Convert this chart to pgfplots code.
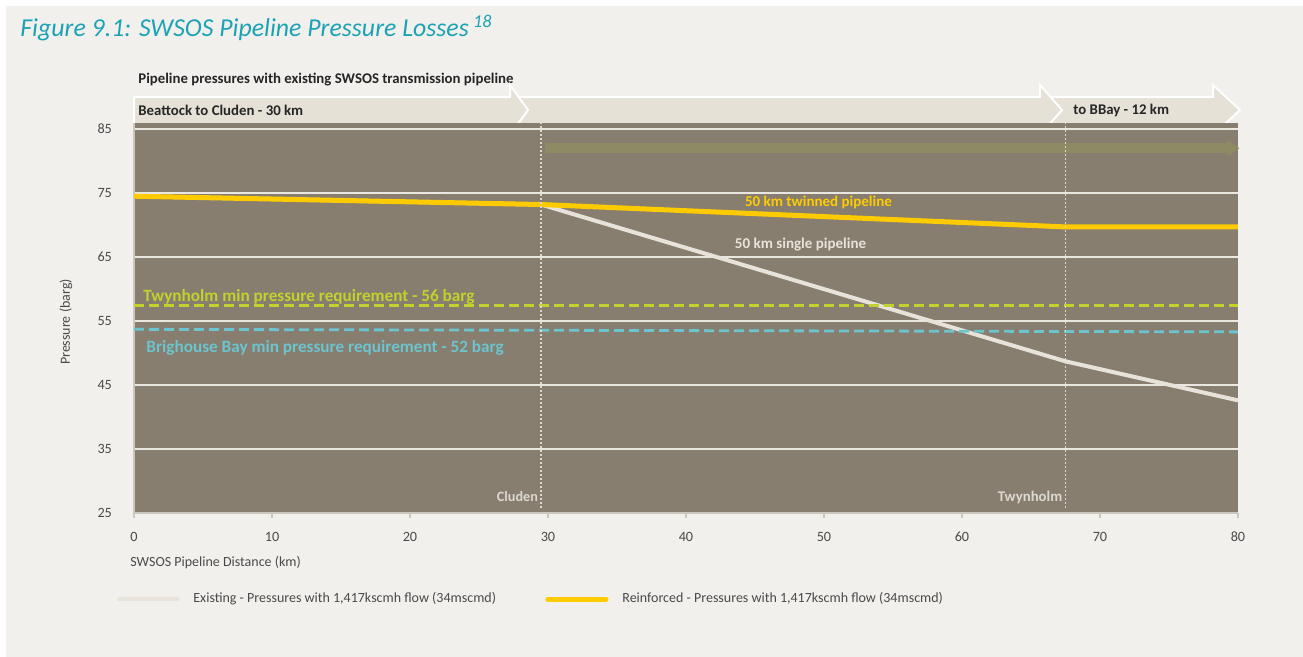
\documentclass[border=0pt]{standalone}
\usepackage{pgfplots}
\pgfplotsset{compat=1.18}
\usepackage{fontspec}
\setmainfont{Carlito}
\usetikzlibrary{arrows.meta}
\definecolor{bg}{HTML}{F1F0EC}
\definecolor{plotbg}{HTML}{877E6F}
\definecolor{banner}{HTML}{E5E1D7}
\definecolor{titleteal}{HTML}{1BA3B5}
\definecolor{gold}{HTML}{FECB00}
\definecolor{exist}{HTML}{E8E3DA}
\definecolor{existleg}{HTML}{DAD5CB}
\definecolor{limel}{HTML}{C3D12C}
\definecolor{cyanl}{HTML}{6CC4CF}
\definecolor{olivel}{HTML}{8E8A63}
\definecolor{ticktxt}{HTML}{4A4A4A}
\definecolor{axln}{HTML}{CBC7BF}
\definecolor{gridc}{HTML}{EAE7E1}
\definecolor{markc}{HTML}{DDD8CF}

\pgfplotstableread{
x y
0 74.5
29.5 73.2
67.5 48.7
80 42.6
}\existing
\pgfplotstableread{
x y
0 74.5
29.5 73.2
67.5 69.7
80 69.7
}\reinforced
\pgfplotstableread{
x y
0 57.4
80 57.4
}\twyn
\pgfplotstableread{
x y
0 53.7
80 53.3
}\brig

\begin{document}
\begin{tikzpicture}
\begin{scope}[x=0.5pt,y=-0.5pt]
\fill[white] (0,0) rectangle (1303,657);
\fill[bg] (6,6) rectangle (1303,657);
\node[anchor=west, inner sep=0pt, text=titleteal, font=\fontsize{12.9}{15}\selectfont\itshape] at (20,28) {Figure 9.1: SWSOS Pipeline Pressure Losses\,\textsuperscript{18}};
\node[anchor=west, inner sep=0pt, font=\fontsize{7.4}{9}\selectfont\bfseries, text=black!85] at (138,80) {Pipeline pressures with existing SWSOS transmission pipeline};
% banners
\filldraw[fill=banner, draw=white, line width=1pt] (1040,97) -- (1213,97) -- (1213,85) -- (1240,110) -- (1213,135) -- (1040,135) -- cycle;
\filldraw[fill=banner, draw=white, line width=1pt] (500,97) -- (1040,97) -- (1040,85) -- (1062,110) -- (1040,135) -- (500,135) -- cycle;
\filldraw[fill=banner, draw=white, line width=1pt] (134,97) -- (510,97) -- (510,85) -- (528,110) -- (510,135) -- (134,135) -- cycle;
\node[anchor=west, inner sep=0pt, font=\fontsize{7.4}{9}\selectfont\bfseries, text=black!85] at (138,110) {Beattock to Cluden - 30 km};
\node[anchor=west, inner sep=0pt, font=\fontsize{7.4}{9}\selectfont\bfseries, text=black!85] at (1073,110) {to BBay - 12 km};
\end{scope}

\begin{axis}[
  at={(67pt,-256.5pt)}, anchor=south west,
  width=552pt, height=195.2pt, scale only axis,
  xmin=0, xmax=80, ymin=25, ymax=86,
  clip=false,
  axis background/.style={fill=plotbg},
  axis lines*=left,
  axis line style={draw=axln, line width=0.8pt, -},
  xtick={0,10,...,80}, ytick={25,35,...,85},
  ymajorgrids, grid style={draw=gridc, line width=0.6pt},
  tick align=outside, major tick length=2.5pt,
  xtick style={draw=axln, line width=0.6pt},
  ytick style={draw=none},
  /pgf/number format/assume math mode=true,
  tick label style={font=\fontsize{7.1}{8}\selectfont, text=ticktxt},
  xticklabel style={yshift=-3.5pt},
  yticklabel style={xshift=-5pt},
  legend image code/.code={\draw[#1, line cap=round] (0pt,0pt) -- (29pt,0pt);},
  legend style={at={(rel axis cs:-0.0154,-0.2203)}, anchor=west, draw=none, fill=none,
    inner sep=0pt, legend columns=2, font=\fontsize{7}{8}\selectfont, text=ticktxt,
    nodes={inner sep=0pt},
    /tikz/every odd column/.append style={column sep=7pt}},
  legend cell align=left,
]
\addplot[color=exist, line width=2pt] table {\existing};
\addlegendentry{\makebox[176pt][l]{Existing - Pressures with 1,417kscmh flow (34mscmd)}}
\addplot[color=gold, line width=2.5pt] table {\reinforced};
\addlegendentry{Reinforced - Pressures with 1,417kscmh flow (34mscmd)}
\addplot[color=limel, line width=1.4pt, dash pattern=on 5pt off 2.5pt, forget plot] table {\twyn};
\addplot[color=cyanl, line width=1.4pt, dash pattern=on 5pt off 2.5pt, forget plot] table {\brig};

\draw[color=olivel, line width=5pt, -{Triangle[length=6pt,width=8pt]}] (axis cs:29.8,82.0) -- (axis cs:80.1,82.0);
\draw[color=markc, line width=0.8pt, dash pattern=on 0.8pt off 1.2pt] (axis cs:29.5,25.8) -- (axis cs:29.5,86);
\draw[color=markc, line width=0.8pt, dash pattern=on 0.8pt off 1.2pt] (axis cs:67.5,25.8) -- (axis cs:67.5,86);
\node[anchor=east, inner sep=0pt, text=markc, font=\fontsize{7.1}{8}\selectfont\bfseries] at (axis cs:29.3,27.5) {Cluden};
\node[anchor=east, inner sep=0pt, text=markc, font=\fontsize{7.4}{8}\selectfont\bfseries] at (axis cs:67.3,27.5) {Twynholm};
\node[anchor=west, inner sep=0pt, text=limel, font=\fontsize{8.6}{10}\selectfont\bfseries] at (axis cs:0.65,58.7) {Twynholm min pressure requirement - 56 barg};
\node[anchor=west, inner sep=0pt, text=cyanl, font=\fontsize{8.6}{10}\selectfont\bfseries] at (axis cs:0.87,50.8) {Brighouse Bay min pressure requirement - 52 barg};
\node[inner sep=0pt, text=gold, font=\fontsize{7.5}{9}\selectfont\bfseries] at (axis cs:49.6,73.6) {50 km twinned pipeline};
\node[inner sep=0pt, text=exist, font=\fontsize{7.5}{9}\selectfont\bfseries] at (axis cs:48.3,67.0) {50 km single pipeline};
\end{axis}

\begin{scope}[x=0.5pt,y=-0.5pt]
\node[anchor=west, inner sep=0pt, text=ticktxt, font=\fontsize{7}{8}\selectfont] at (130,563) {SWSOS Pipeline Distance (km)};
\node[rotate=90, inner sep=0pt, text=ticktxt, font=\fontsize{7}{8}\selectfont] at (66,322) {Pressure (barg)};
\end{scope}
\end{tikzpicture}
\end{document}
